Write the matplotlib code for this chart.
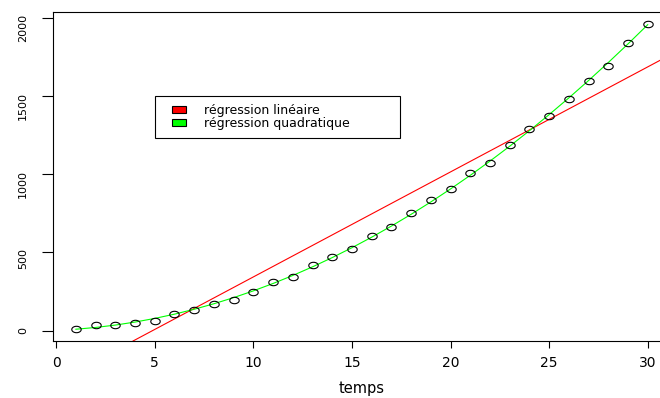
import numpy as np
import matplotlib
matplotlib.use("Agg")
import matplotlib.pyplot as plt
from matplotlib.path import Path
from matplotlib.patches import Patch, Rectangle
from matplotlib.legend_handler import HandlerPatch

# observations
temps = np.arange(1, 31)
valeurs = np.array([11, 38, 34, 49, 62, 104, 134, 172, 198, 249,
                    311, 340, 417, 473, 519, 602, 662, 749, 832, 907,
                    1007, 1068, 1183, 1288, 1371, 1483, 1596, 1694, 1841, 1960])

x_ticks = [0, 5, 10, 15, 20, 25, 30]
y_ticks = [0, 500, 1000, 1500, 2000]
legend_labels = ["régression linéaire", "régression quadratique"]

plt.rcParams["font.family"] = ["DejaVu Sans"]

# linear and quadratic least-squares fits
lin = np.polyfit(temps, valeurs, 1)
quad = np.polyfit(temps, valeurs, 2)

fig = plt.figure(figsize=(6.6, 3.98), dpi=100)
ax = fig.add_axes([53 / 660, 57 / 398, 617.6 / 660, 329.3 / 398])

# squashed open circle, like the point symbol of the original device
theta = np.linspace(0, 2 * np.pi, 41)
ellipse = Path(np.column_stack([np.cos(theta), 0.68 * np.sin(theta)]))

ax.axline((0, lin[1]), slope=lin[0], color="#ff0000", lw=0.8)
ax.plot(temps, np.polyval(quad, temps), color="#00ff00", lw=0.8)
ax.plot(temps, valeurs, ls="none", marker=ellipse, ms=6.8,
        mfc="none", mec="black", mew=0.8)

# 4% padding around the data range
xr = temps.max() - temps.min()
yr = valeurs.max() - valeurs.min()
ax.set_xlim(temps.min() - 0.04 * xr, temps.max() + 0.04 * xr)
ax.set_ylim(valeurs.min() - 0.04 * yr, valeurs.max() + 0.04 * yr)

ax.set_xticks(x_ticks)
ax.set_yticks(y_ticks)
for lab in ax.get_yticklabels():
    lab.set_rotation(90)
    lab.set_fontsize(8)
ax.tick_params(axis="x", direction="out", length=5.3, width=0.8,
               labelsize=10, pad=5.5)
ax.tick_params(axis="y", direction="out", length=8, width=0.8, pad=10)
for s in ax.spines.values():
    s.set_linewidth(0.8)
    s.set_color("black")

ax.set_xlabel("temps", fontsize=10.5)
ax.xaxis.set_label_coords(308.5 / 617.6, -48 / 329.3)
ax.xaxis.label.set_va("center")


def square_handle(legend, orig_handle, xdescent, ydescent, width, height, fontsize):
    w = 1.09 * fontsize
    h = 0.56 * fontsize
    return Rectangle((-xdescent + width - w, -ydescent + (height - h) / 2), w, h)


handles = [Patch(facecolor="#ff0000", edgecolor="black", lw=0.8),
           Patch(facecolor="#00ff00", edgecolor="black", lw=0.8)]
# legend box anchored at (5, 1500), stretched to a fixed width
leg = ax.legend(handles, legend_labels, loc="upper left", mode="expand",
                bbox_to_anchor=(5, 1250, 12.42, 250), bbox_transform=ax.transData,
                borderaxespad=0, fontsize=9, fancybox=False, framealpha=1,
                edgecolor="black", borderpad=0.62, handlelength=1.86,
                handletextpad=1.42, labelspacing=0.06,
                handler_map={Patch: HandlerPatch(patch_func=square_handle)})
leg.get_frame().set_linewidth(0.8)

fig.savefig("out.png", dpi=100)
